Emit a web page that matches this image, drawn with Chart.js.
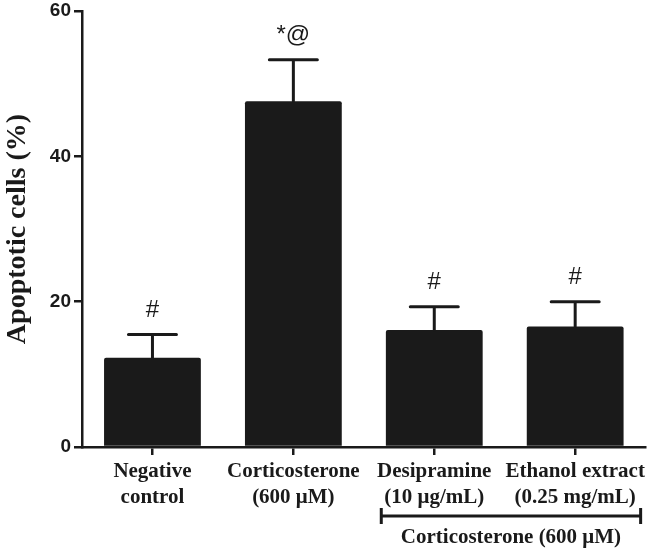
<!DOCTYPE html>
<html>
<head>
<meta charset="utf-8">
<script src="https://cdn.jsdelivr.net/npm/chart.js"></script>
<style>
  html, body { margin: 0; padding: 0; background: #fff; }
  #wrap { width: 648px; height: 548px; }
</style>
</head>
<body>
<div id="wrap"><canvas id="chart"></canvas></div>
<script>
const categories = [
  ['Negative', 'control'],
  ['Corticosterone', '(600 μM)'],
  ['Desipramine', '(10 μg/mL)'],
  ['Ethanol extract', '(0.25 mg/mL)']
];
const means = [12.3, 47.6, 16.1, 16.6];
const errors = [3.2, 5.7, 3.2, 3.4];
const marks = ['#', '*@', '#', '#'];
const yTicks = [0, 20, 40, 60];
const groupLabel = 'Corticosterone (600 μM)';

const ink = '#1a1a1a';
const serif = '"Liberation Serif", "Times New Roman", serif';
const sans = '"Liberation Sans", Arial, sans-serif';

// error bars (upper only) + significance marks
const errorBars = {
  id: 'errorBars',
  afterDatasetsDraw(chart) {
    const ctx = chart.ctx;
    const y = chart.scales.y;
    const meta = chart.getDatasetMeta(0);
    ctx.save();
    ctx.strokeStyle = ink;
    ctx.fillStyle = ink;
    ctx.lineWidth = 3;
    ctx.lineCap = 'round';
    meta.data.forEach((bar, i) => {
      const top = y.getPixelForValue(means[i] + errors[i]);
      ctx.beginPath();
      ctx.moveTo(bar.x, bar.y);
      ctx.lineTo(bar.x, top);
      ctx.moveTo(bar.x - 24, top);
      ctx.lineTo(bar.x + 24, top);
      ctx.stroke();
      ctx.font = '24px ' + sans;
      ctx.textAlign = 'center';
      ctx.textBaseline = 'middle';
      ctx.fillText(marks[i], bar.x, top - 24);
    });
    ctx.restore();
  }
};

// bracket under the last two groups
const bracket = {
  id: 'bracket',
  afterDraw(chart) {
    const ctx = chart.ctx;
    const x = chart.scales.x;
    const left = x.getPixelForValue(2) - 53;
    const right = chart.chartArea.right - 5;
    const yLine = 516;
    ctx.save();
    ctx.strokeStyle = ink;
    ctx.lineWidth = 3;
    ctx.beginPath();
    ctx.moveTo(left, yLine);
    ctx.lineTo(right, yLine);
    ctx.moveTo(left, yLine - 8);
    ctx.lineTo(left, yLine + 8);
    ctx.moveTo(right, yLine - 8);
    ctx.lineTo(right, yLine + 8);
    ctx.stroke();
    ctx.fillStyle = ink;
    ctx.font = 'bold 21px ' + serif;
    ctx.textAlign = 'center';
    ctx.textBaseline = 'middle';
    ctx.fillText(groupLabel, (left + right) / 2, 538);
    ctx.restore();
  }
};

new Chart(document.getElementById('chart'), {
  type: 'bar',
  data: {
    labels: categories,
    datasets: [{
      data: means,
      backgroundColor: ink,
      borderWidth: 0,
      borderRadius: 2,
      borderSkipped: 'bottom',
      barPercentage: 0.687,
      categoryPercentage: 1.0
    }]
  },
  options: {
    responsive: true,
    maintainAspectRatio: false,
    animation: false,
    layout: { padding: { top: 8, right: 1, left: 0, bottom: 0 } },
    plugins: {
      legend: { display: false },
      tooltip: { enabled: false }
    },
    scales: {
      x: {
        grid: {
          offset: false,
          drawOnChartArea: false,
          color: ink,
          lineWidth: 2.5,
          tickLength: 8
        },
        border: { color: ink, width: 2.5 },
        ticks: {
          color: ink,
          padding: 3,
          maxRotation: 0,
          autoSkip: false,
          font: { family: serif, size: 21, weight: 'bold', lineHeight: 1.25 }
        },
        afterFit(scale) { scale.height = 101; }
      },
      y: {
        min: 0,
        max: 60,
        afterBuildTicks(scale) { scale.ticks = yTicks.map(v => ({ value: v })); },
        grid: {
          drawOnChartArea: false,
          color: ink,
          lineWidth: 2.5,
          tickLength: 8
        },
        border: { color: ink, width: 2.5 },
        ticks: {
          color: ink,
          padding: 3,
          font: { family: sans, size: 19, weight: 'bold', lineHeight: 0.85 }
        },
        title: {
          display: true,
          text: 'Apoptotic cells (%)',
          color: ink,
          padding: { top: 1, bottom: 0 },
          font: { family: serif, size: 28, weight: 'bold' }
        },
        afterFit(scale) { scale.width = 82; }
      }
    }
  },
  plugins: [errorBars, bracket]
});
</script>
</body>
</html>
